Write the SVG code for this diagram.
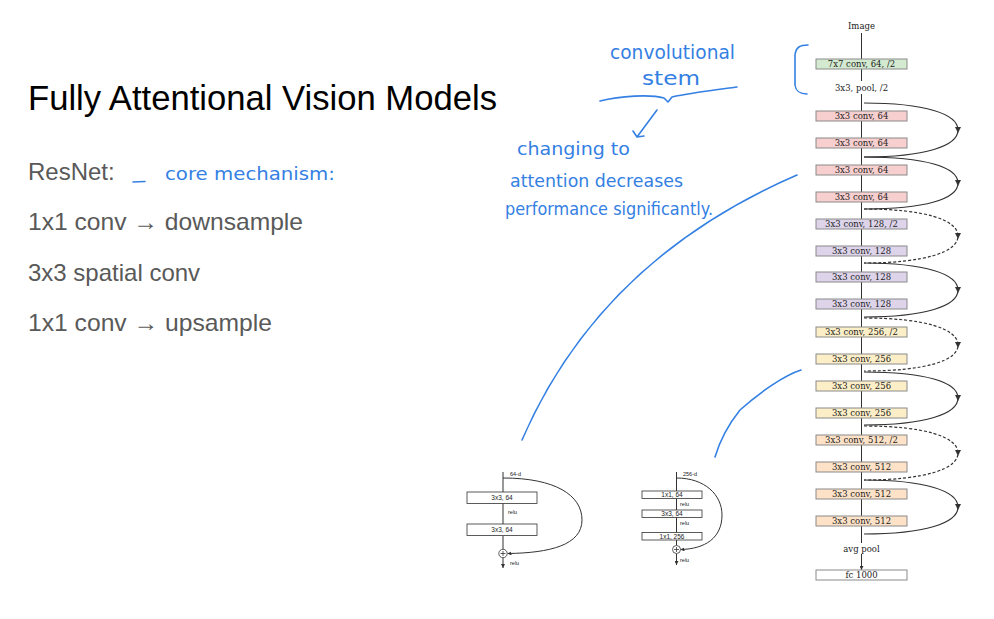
<svg xmlns="http://www.w3.org/2000/svg" width="994" height="619" viewBox="0 0 994 619">
<defs>
<style>
.bx{stroke:#8a8a8a;stroke-width:1}
.g{fill:#d3ead0}.p{fill:#f8cfcf}.l{fill:#ddd4ea}.y{fill:#fcefc7}.o{fill:#fde2c8}.w{fill:#fff}
.bt{font-family:"DejaVu Serif",serif;font-size:8.5px;fill:#222;text-anchor:middle}
.ln{stroke:#333;stroke-width:1;fill:none}
.arc{stroke:#333;stroke-width:1.2;fill:none}
.dash{stroke-dasharray:3,2}
.sb{stroke:#333;stroke-width:0.8;fill:#fff}
.st{font-family:"Liberation Sans",Arial,sans-serif;font-size:6.5px;fill:#222;text-anchor:middle}
.sl{font-family:"Liberation Sans",Arial,sans-serif;font-size:5.5px;fill:#222}
.hw{font-family:"DejaVu Sans",sans-serif;font-weight:400;fill:#3480e3}
.blue{stroke:#3480e3;stroke-width:1.6;fill:none;stroke-linecap:round;stroke-linejoin:round}
.main{font-family:"Liberation Sans",Arial,sans-serif;font-size:24px;fill:#595959}
</style>
<marker id="ah" viewBox="0 0 6 6" refX="6" refY="3" markerWidth="4" markerHeight="4" orient="auto" markerUnits="userSpaceOnUse"><path d="M0,0 L6,3 L0,6 z" fill="#333"/></marker>
<marker id="am" viewBox="0 0 6 6" refX="3" refY="3" markerWidth="6" markerHeight="6" orient="auto" markerUnits="userSpaceOnUse"><path d="M0,0 L6,3 L0,6 z" fill="#333"/></marker>
</defs>
<rect width="994" height="619" fill="#fff"/>

<g id="slide-text">
<text x="28" y="110" font-family="Liberation Sans,Arial,sans-serif" font-size="34.5" fill="#000" textLength="469" lengthAdjust="spacingAndGlyphs">Fully Attentional Vision Models</text>
<text class="main" x="28" y="180">ResNet:</text>
<text class="main" x="28" y="230" textLength="275" lengthAdjust="spacingAndGlyphs">1x1 conv → downsample</text>
<text class="main" x="28" y="281">3x3 spatial conv</text>
<text class="main" x="28" y="331" textLength="244" lengthAdjust="spacingAndGlyphs">1x1 conv → upsample</text>
</g>

<g id="connectors">
<path class="ln" marker-end="url(#ah)" d="M861.5,33 V59 M861.5,69 V81 M861.5,94 V111 M861.5,121 V138 M861.5,148 V165 M861.5,175 V192 M861.5,202 V219 M861.5,229 V246 M861.5,256 V272 M861.5,282 V299 M861.5,309 V327 M861.5,337 V354 M861.5,364 V381 M861.5,391 V408 M861.5,418 V435 M861.5,445 V462 M861.5,472 V489 M861.5,499 V516 M861.5,526 V543 M861.5,554 V570"/>
<path class="arc" marker-mid="url(#am)" d="M864,103 C925,103 958,114 958,130 C958,146 925,157 864,157"/>
<path class="arc" marker-mid="url(#am)" d="M864,157 C925,157 958,167 958,183 C958,199 925,209 864,209"/>
<path class="arc dash" marker-mid="url(#am)" d="M864,209 C925,209 958,220 958,236 C958,252 925,263 864,263"/>
<path class="arc" marker-mid="url(#am)" d="M864,263 C925,263 958,274 958,290 C958,306 925,317 864,317"/>
<path class="arc dash" marker-mid="url(#am)" d="M864,318 C925,318 958,329 958,345 C958,361 925,371 864,371"/>
<path class="arc" marker-mid="url(#am)" d="M864,372 C925,372 958,382 958,398 C958,414 925,425 864,425"/>
<path class="arc dash" marker-mid="url(#am)" d="M864,426 C925,426 958,437 958,453 C958,469 925,480 864,480"/>
<path class="arc" marker-mid="url(#am)" d="M864,480 C925,480 958,491 958,507 C958,523 925,534 864,534"/>

<path class="ln" marker-end="url(#ah)" d="M503,472 V492 M503,503 V524 M503,536 V549 M503,558 V568"/>
<path class="ln" marker-end="url(#ah)" d="M503,478 C555,478 582,495 582,520 C582,545 550,553 507.5,553.5"/>
<path class="ln" marker-end="url(#ah)" d="M676.5,472 V491 M676.5,498 V510 M676.5,517 V532.5 M676.5,540 V545.5 M676.5,553.5 V565"/>
<path class="ln" marker-end="url(#ah)" d="M676.5,478 C705,478 722,495 722,515 C722,538 705,549 680.5,549.5"/>
</g>

<g id="image-label"><text class="bt" x="861.5" y="29">Image</text></g>
<g id="conv7"><rect class="bx g" x="816" y="59" width="91" height="10"/><text class="bt" x="861.5" y="67">7x7 conv, 64, /2</text></g>
<g id="pool"><text class="bt" x="861.5" y="91">3x3, pool, /2</text></g>
<g id="c1"><rect class="bx p" x="816" y="111" width="91" height="10"/><text class="bt" x="861.5" y="119">3x3 conv, 64</text></g>
<g id="c2"><rect class="bx p" x="816" y="138" width="91" height="10"/><text class="bt" x="861.5" y="146">3x3 conv, 64</text></g>
<g id="c3"><rect class="bx p" x="816" y="165" width="91" height="10"/><text class="bt" x="861.5" y="173">3x3 conv, 64</text></g>
<g id="c4"><rect class="bx p" x="816" y="192" width="91" height="10"/><text class="bt" x="861.5" y="200">3x3 conv, 64</text></g>
<g id="c5"><rect class="bx l" x="816" y="219" width="91" height="10"/><text class="bt" x="861.5" y="227">3x3 conv, 128, /2</text></g>
<g id="c6"><rect class="bx l" x="816" y="246" width="91" height="10"/><text class="bt" x="861.5" y="254">3x3 conv, 128</text></g>
<g id="c7"><rect class="bx l" x="816" y="272" width="91" height="10"/><text class="bt" x="861.5" y="280">3x3 conv, 128</text></g>
<g id="c8"><rect class="bx l" x="816" y="299" width="91" height="10"/><text class="bt" x="861.5" y="307">3x3 conv, 128</text></g>
<g id="c9"><rect class="bx y" x="816" y="327" width="91" height="10"/><text class="bt" x="861.5" y="335">3x3 conv, 256, /2</text></g>
<g id="c10"><rect class="bx y" x="816" y="354" width="91" height="10"/><text class="bt" x="861.5" y="362">3x3 conv, 256</text></g>
<g id="c11"><rect class="bx y" x="816" y="381" width="91" height="10"/><text class="bt" x="861.5" y="389">3x3 conv, 256</text></g>
<g id="c12"><rect class="bx y" x="816" y="408" width="91" height="10"/><text class="bt" x="861.5" y="416">3x3 conv, 256</text></g>
<g id="c13"><rect class="bx o" x="816" y="435" width="91" height="10"/><text class="bt" x="861.5" y="443">3x3 conv, 512, /2</text></g>
<g id="c14"><rect class="bx o" x="816" y="462" width="91" height="10"/><text class="bt" x="861.5" y="470">3x3 conv, 512</text></g>
<g id="c15"><rect class="bx o" x="816" y="489" width="91" height="10"/><text class="bt" x="861.5" y="497">3x3 conv, 512</text></g>
<g id="c16"><rect class="bx o" x="816" y="516" width="91" height="10"/><text class="bt" x="861.5" y="524">3x3 conv, 512</text></g>
<g id="avgpool"><text class="bt" x="861.5" y="552">avg pool</text></g>
<g id="fc"><rect class="bx w" x="816" y="570" width="91" height="10"/><text class="bt" x="861.5" y="578">fc 1000</text></g>

<g id="basic-block">
<text class="sl" x="510" y="475.5">64-d</text>
<rect class="sb" x="467" y="492" width="70" height="11.5"/><text class="st" x="502" y="500">3x3, 64</text>
<text class="sl" x="508" y="514">relu</text>
<rect class="sb" x="467" y="524" width="70" height="11.5"/><text class="st" x="502" y="532">3x3, 64</text>
<circle cx="503" cy="553.5" r="4.2" fill="#fff" stroke="#333" stroke-width="0.8"/>
<path d="M500.5,553.5 h5 M503,551 v5" stroke="#333" stroke-width="0.8"/>
<text class="sl" x="510" y="565">relu</text>
</g>

<g id="bottleneck-block">
<text class="sl" x="683" y="475.5">256-d</text>
<rect class="sb" x="642" y="491" width="60" height="7.5"/><text class="st" x="672" y="497">1x1, 64</text>
<text class="sl" x="680" y="505.5">relu</text>
<rect class="sb" x="642" y="510" width="60" height="7.5"/><text class="st" x="672" y="516">3x3, 64</text>
<text class="sl" x="680" y="524.5">relu</text>
<rect class="sb" x="642" y="532.5" width="60" height="7.5"/><text class="st" x="672" y="538.5">1x1, 256</text>
<circle cx="676.5" cy="549.5" r="4" fill="#fff" stroke="#333" stroke-width="0.8"/>
<path d="M674,549.5 h5 M676.5,547 v5" stroke="#333" stroke-width="0.8"/>
<text class="sl" x="680" y="561.5">relu</text>
</g>

<g id="annotations">
<path class="blue" d="M808,45 C800,45 796,47 795,55 L795,85 C796,92 800,94 807,94"/>
<path class="blue" d="M600,101 C620,96 650,94 664,98 L668,102 L672,97 C690,93 715,90 737,87"/>
<path class="blue" d="M657,110 L637,137 M633,131 L637,137 L644,136"/>
<path class="blue" d="M797,175 Q600,260 522,440"/>
<path class="blue" d="M801,370 C785,375 760,392 740,410 C728,425 720,440 715,457"/>
<path class="blue" d="M133,182 L145,181.5"/>
<text class="hw" x="165" y="180" font-size="17" textLength="170" lengthAdjust="spacingAndGlyphs">core mechanism:</text>
<text class="hw" x="610" y="59" font-size="19" textLength="125" lengthAdjust="spacingAndGlyphs">convolutional</text>
<text class="hw" x="642" y="85" font-size="19" textLength="58" lengthAdjust="spacingAndGlyphs">stem</text>
<text class="hw" x="517" y="155" font-size="17" textLength="113" lengthAdjust="spacingAndGlyphs">changing to</text>
<text class="hw" x="510" y="187" font-size="17" textLength="173" lengthAdjust="spacingAndGlyphs">attention decreases</text>
<text class="hw" x="505" y="215" font-size="17" textLength="208" lengthAdjust="spacingAndGlyphs">performance significantly.</text>
</g>
</svg>
